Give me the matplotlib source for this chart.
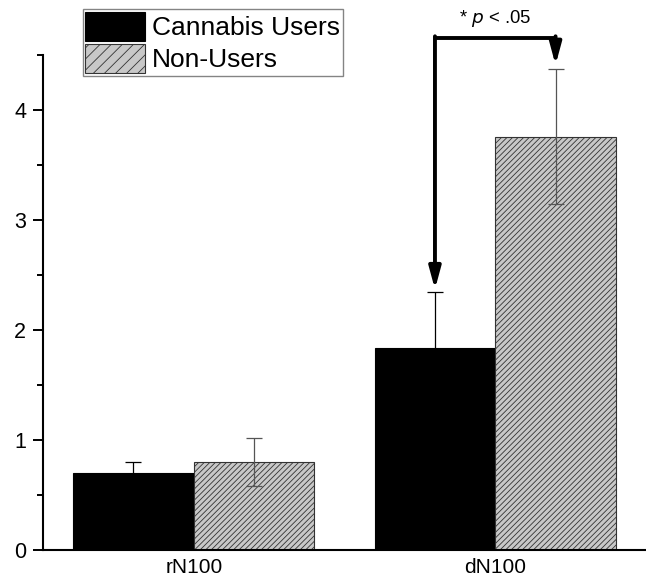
import matplotlib
matplotlib.use("Agg")
import matplotlib.pyplot as plt
from matplotlib.ticker import MultipleLocator
import numpy as np

plt.rcParams["font.family"] = ["Liberation Sans", "DejaVu Sans"]
plt.rcParams["hatch.linewidth"] = 0.6

categories = ["rN100", "dN100"]
groups = ["Cannabis Users", "Non-Users"]
users_mean = [0.70, 1.84]
users_err = [0.10, 0.51]
nonusers_mean = [0.80, 3.76]
nonusers_err = [0.22, 0.61]

x = np.arange(len(categories))
width = 0.4

fig = plt.figure(figsize=(6.46, 5.81), dpi=100)
ax = fig.add_axes([0.0666, 0.0534, 0.9334, 0.8516])

ax.bar(x - width / 2, users_mean, width, color="black", edgecolor="black",
       linewidth=0.8, label=groups[0])
ax.bar(x + width / 2, nonusers_mean, width, color="#c8c8c8", edgecolor="#333333",
       linewidth=0.8, hatch="//////", label=groups[1])

ax.errorbar(x - width / 2, users_mean, yerr=users_err, fmt="none",
            ecolor="black", elinewidth=0.9, capsize=6, capthick=0.9)
ax.errorbar(x + width / 2, nonusers_mean, yerr=nonusers_err, fmt="none",
            ecolor="#555555", elinewidth=0.9, capsize=6, capthick=0.9)

# significance bracket between the dN100 bars
top = 4.66
left_x = x[1] - width / 2
right_x = x[1] + width / 2
left_tip = users_mean[1] + users_err[1] + 0.02
right_tip = nonusers_mean[1] + nonusers_err[1] + 0.04
ax.plot([left_x, right_x], [top, top], color="black", lw=2.8,
        clip_on=False, solid_capstyle="butt")
for xx, tip in [(left_x, left_tip), (right_x, right_tip)]:
    ax.annotate("", xy=(xx, tip), xytext=(xx, top + 0.012),
                annotation_clip=False,
                arrowprops=dict(arrowstyle="-|>,head_length=1.3,head_width=0.35",
                                color="black", lw=2.8, shrinkA=0, shrinkB=0))
ax.text((left_x + right_x) / 2, top + 0.08, "* $\\it{p}$ < .05", ha="center",
        va="bottom", fontsize=13.3)

ax.set_xlim(-0.5, 1.5)
ax.set_ylim(0, 4.5)
ax.set_xticks(x)
ax.set_xticklabels(categories)
ax.yaxis.set_major_locator(MultipleLocator(1))
ax.yaxis.set_minor_locator(MultipleLocator(0.5))
ax.tick_params(axis="x", length=0, labelsize=15, pad=6)
ax.tick_params(axis="y", which="major", direction="out", length=7, width=1.4,
               labelsize=15.5, pad=5)
ax.tick_params(axis="y", which="minor", direction="out", length=4, width=1.4)

for side in ["top", "right"]:
    ax.spines[side].set_visible(False)
for side in ["left", "bottom"]:
    ax.spines[side].set_linewidth(1.5)

leg = ax.legend(loc="upper left", bbox_to_anchor=(0.066, 1.093), fontsize=19,
                frameon=True, fancybox=False, edgecolor="#666666",
                handlelength=2.27, handleheight=1.35, handletextpad=0.25,
                borderpad=0.1, labelspacing=0.08, borderaxespad=0)
leg.get_frame().set_linewidth(1.0)
leg.legend_handles[1].set_hatch("///")

fig.savefig("out.png", dpi=100)
